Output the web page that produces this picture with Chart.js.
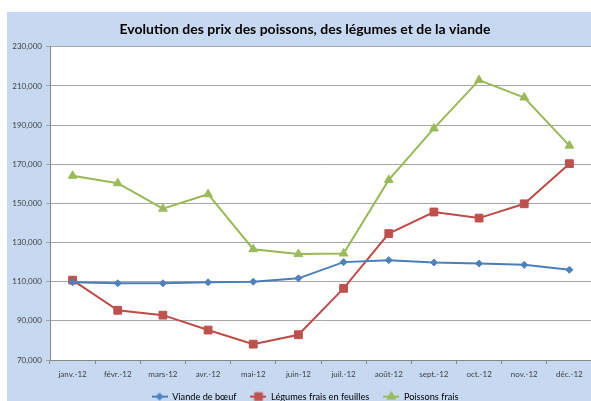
<!DOCTYPE html>
<html><head><meta charset="utf-8">
<script src="https://cdn.jsdelivr.net/npm/chart.js@4/dist/chart.umd.min.js"></script>
<style>
html,body{margin:0;padding:0;width:591px;height:401px;overflow:hidden;background:#fff}
#wrap{position:absolute;left:7px;top:12px;width:596px;height:389px;background:#C6D9F1}
canvas{display:block}
</style></head><body>
<div id="wrap"><canvas id="c" width="596" height="389"></canvas></div>
<script>
const titleText = "Evolution des prix des poissons, des légumes et de la viande";
const months = ["janv.-12","févr.-12","mars-12","avr.-12","mai-12","juin-12","juil.-12","août-12","sept.-12","oct.-12","nov.-12","déc.-12"];
const seriesNames = ["Viande de bœuf","Légumes frais en feuilles","Poissons frais"];
const viande = [109700,109200,109200,109700,110000,111700,120000,121000,119800,119300,118600,116100];
const legumes = [110800,95400,92900,85300,78100,82900,106600,134600,145600,142500,149800,170300];
const poissons = [164100,160300,147300,154700,126600,124100,124400,162000,188300,213000,204100,179500];
const yTickValues = [70000,90000,110000,130000,150000,170000,190000,210000,230000];

const lineColors = ['#4A7EBB','#BE4B48','#98B954'];
const markColors = ['#4F81BD','#C0504D','#9BBB59'];
const shapes = ['rectRot','rect','triangle'];
const radii = [3.5,5.5,5];

function makeIcon(lc, mc, shape, r){
  const cv = document.createElement('canvas');
  cv.width = 16; cv.height = 12;
  const ctx = cv.getContext('2d');
  ctx.strokeStyle = lc; ctx.lineWidth = 2;
  ctx.beginPath(); ctx.moveTo(0,6); ctx.lineTo(16,6); ctx.stroke();
  ctx.fillStyle = mc; ctx.strokeStyle = mc; ctx.lineWidth = 1;
  Chart.helpers.drawPoint(ctx, {pointStyle: shape, radius: r, borderWidth: 1, rotation: 0}, 8, 6);
  return cv;
}

const plotBg = {
  id:'plotBg',
  beforeDraw(chart){
    const {ctx, chartArea:a} = chart;
    ctx.save(); ctx.fillStyle='#ffffff';
    ctx.fillRect(a.left, a.top, a.right-a.left, a.bottom-a.top);
    ctx.restore();
  }
};
const legendFit = {
  id:'legendFit',
  afterInit(chart){
    const lg = chart.legend;
    if(!lg) return;
    const f = lg.fit.bind(lg);
    lg.fit = function(){ f(); this.height = 23; };
  }
};

const seriesData = [viande, legumes, poissons];
const datasets = seriesNames.map((n,i)=>({
  label:n, data:seriesData[i],
  borderColor:lineColors[i], backgroundColor:markColors[i],
  pointBackgroundColor:markColors[i], pointBorderColor:markColors[i],
  pointStyle:shapes[i], pointRadius:radii[i], pointBorderWidth:1,
  borderWidth:2, tension:0, fill:false
}));

let icons = null;
new Chart(document.getElementById('c'), {
  type:'line',
  data:{labels:months, datasets},
  options:{
    responsive:false, animation:false,
    layout:{padding:{left:0,right:0,top:0,bottom:0}},
    plugins:{
      title:{display:true, text:titleText, color:'#000',
        font:{family:'Lato', size:14, weight:'bold'}, padding:{top:9,bottom:9}},
      legend:{position:'bottom',
        labels:{usePointStyle:true, pointStyleWidth:16, boxHeight:9, padding:14,
          color:'#000', font:{family:'Lato', size:9.2},
          generateLabels(chart){
            if(!icons) icons = seriesNames.map((n,i)=>makeIcon(lineColors[i],markColors[i],shapes[i],radii[i]));
            return chart.data.datasets.map((ds,i)=>({text:ds.label, pointStyle:icons[i], fillStyle:markColors[i], strokeStyle:markColors[i], lineWidth:0, hidden:false, datasetIndex:i, fontColor:'#000'}));
          }}},
      tooltip:{enabled:false}
    },
    scales:{
      x:{offset:true,
        grid:{offset:true, drawOnChartArea:false, color:'#868686', tickLength:4},
        border:{color:'#868686'},
        ticks:{color:'#404040', font:{family:'Lato', size:8}, padding:6, maxRotation:0, autoSkip:false},
        afterFit(s){ s.height = 18; }
      },
      y:{min:70000, max:230000,
        afterBuildTicks(s){ s.ticks = yTickValues.map(v=>({value:v})); },
        grid:{color:'#A6A6A6', tickLength:4},
        border:{color:'#868686'},
        ticks:{color:'#404040', font:{family:'Lato', size:8}, padding:4,
          callback:v=>v.toLocaleString('en-US')},
        afterFit(s){ s.width = 43; }
      },
      yPad:{position:'right', display:true,
        ticks:{display:false}, grid:{display:false}, border:{display:false},
        afterFit(s){ s.width = 11; }
      }
    }
  },
  plugins:[plotBg, legendFit]
});
</script>
</body></html>
